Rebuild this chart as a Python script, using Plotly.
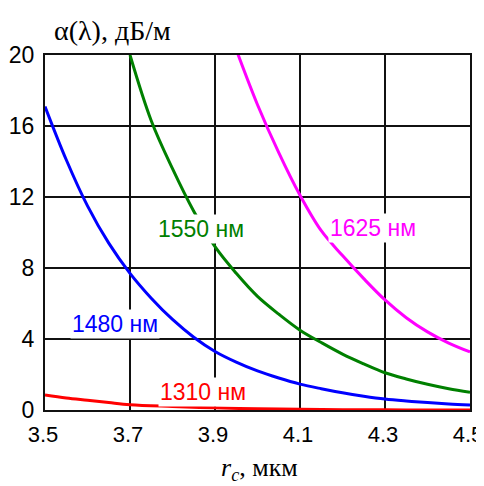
import plotly.graph_objects as go

r_1310 = [3.50, 3.55, 3.60, 3.65, 3.70, 3.80, 3.90, 4.00, 4.10, 4.20, 4.30, 4.40, 4.50]
a_1310 = [0.85, 0.68, 0.55, 0.42, 0.30, 0.20, 0.12, 0.07, 0.04, 0.02, 0.01, 0.0, 0.0]

r_1480 = [3.50, 3.55, 3.60, 3.65, 3.70, 3.75, 3.80, 3.85, 3.90, 3.95, 4.00,
          4.05, 4.10, 4.15, 4.20, 4.25, 4.30, 4.35, 4.40, 4.45, 4.50]
a_1480 = [17.1, 14.1, 11.5, 9.4, 7.7, 6.3, 5.1, 4.1, 3.3, 2.7, 2.2,
          1.8, 1.46, 1.2, 0.97, 0.78, 0.62, 0.51, 0.42, 0.34, 0.28]

r_1550 = [3.70, 3.75, 3.80, 3.85, 3.90, 3.95, 4.00, 4.05, 4.10, 4.15, 4.20,
          4.25, 4.30, 4.35, 4.40, 4.45, 4.50]
a_1550 = [20.0, 16.3, 13.6, 11.2, 9.2, 7.7, 6.4, 5.4, 4.5, 3.8, 3.15,
          2.6, 2.1, 1.75, 1.45, 1.2, 1.0]

r_1625 = [3.95, 4.00, 4.05, 4.10, 4.15, 4.20, 4.25, 4.30, 4.35, 4.40, 4.45, 4.50]
a_1625 = [20.3, 17.2, 14.5, 12.1, 10.1, 8.7, 7.4, 6.2, 5.2, 4.4, 3.77, 3.27]

x_ticks = [3.5, 3.7, 3.9, 4.1, 4.3, 4.5]
x_tick_labels = ["3.5", "3.7", "3.9", "4.1", "4.3", "4.5"]
y_ticks = [0, 4, 8, 12, 16, 20]

series = [
    ("1310 нм", r_1310, a_1310, "#ff0000", 3.872, 1.0),
    ("1480 нм", r_1480, a_1480, "#0000ff", 3.665, 4.85),
    ("1550 нм", r_1550, a_1550, "#008000", 3.867, 10.2),
    ("1625 нм", r_1625, a_1625, "#ff00ff", 4.272, 10.25),
]

fig = go.Figure()
for name, xs, ys, color, lx, ly in series:
    fig.add_trace(go.Scatter(x=xs, y=ys, mode="lines", name=name,
                             line=dict(color=color, width=3, shape="spline"),
                             showlegend=False))

annotations = []
for name, xs, ys, color, lx, ly in series:
    annotations.append(dict(x=lx, y=ly, xref="x", yref="y", text=name,
                            showarrow=False, bgcolor="white", borderpad=1,
                            font=dict(family="Liberation Sans, Arial", size=23, color=color)))

annotations.append(dict(x=0.0165, y=1.070, xref="paper", yref="paper",
                        xanchor="left", yanchor="middle", showarrow=False,
                        text="α(λ), дБ/м",
                        font=dict(family="Liberation Serif, Times New Roman", size=28, color="black")))
annotations.append(dict(x=0.504, y=-0.165, xref="paper", yref="paper",
                        xanchor="center", yanchor="middle", showarrow=False,
                        text="<i>r</i><sub><i>c</i></sub>, мкм",
                        font=dict(family="Liberation Serif, Times New Roman", size=26, color="black")))

axis_common = dict(showgrid=True, gridcolor="#111111", gridwidth=2,
                   showline=True, linecolor="#111111", linewidth=2, mirror=True,
                   zeroline=False, ticks="outside", ticklen=4, tickcolor="white",
                   automargin=False, ticklabeloverflow="allow")

fig.update_layout(
    width=476, height=478,
    margin=dict(l=37, r=14, t=47, b=76, autoexpand=False),
    paper_bgcolor="white", plot_bgcolor="white",
    xaxis=dict(range=[3.5, 4.5], tickvals=x_ticks, ticktext=x_tick_labels,
               ticklabelshift=-2,
               tickfont=dict(family="Liberation Sans, Arial", size=22, color="black"),
               **axis_common),
    yaxis=dict(range=[0, 20], tickvals=y_ticks,
               tickfont=dict(family="Liberation Sans, Arial", size=23, color="black"),
               **axis_common),
    annotations=annotations,
)

fig.write_html("out.html")
